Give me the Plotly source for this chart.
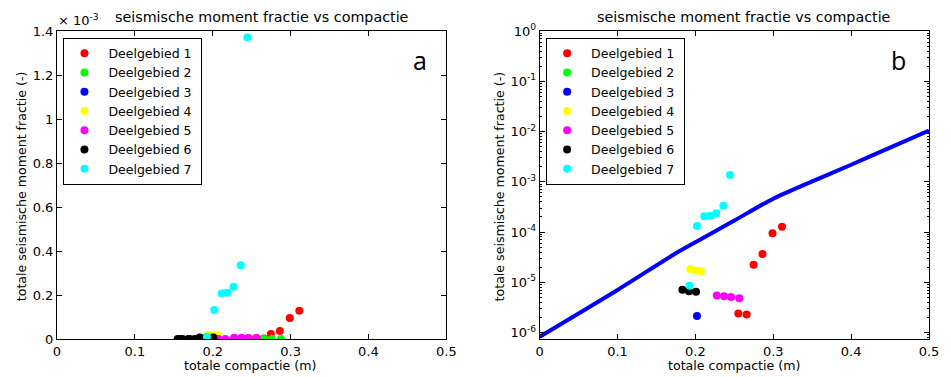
import plotly.graph_objects as go
from plotly.subplots import make_subplots

# ---- data ----
names = ["Deelgebied 1", "Deelgebied 2", "Deelgebied 3", "Deelgebied 4",
         "Deelgebied 5", "Deelgebied 6", "Deelgebied 7"]
colors = ["#ff0000", "#00ff00", "#0000ff", "#ffff00", "#ff00ff", "#000000", "#00ffff"]

x1 = [0.243, 0.2551, 0.2658, 0.2747, 0.2862, 0.299, 0.3112]
y1 = [0.0, 2.4e-6, 2.3e-6, 2.24e-5, 3.66e-5, 9.5e-5, 1.28e-4]
x2 = [0.226, 0.236, 0.246, 0.256, 0.266, 0.276, 0.2875]
y2 = [0.0, 0.0, 0.0, 0.0, 0.0, 0.0, 0.0]
x3 = [0.158, 0.172, 0.186, 0.202]
y3 = [0.0, 0.0, 0.0, 2.15e-6]
x4 = [0.166, 0.176, 0.185, 0.1935, 0.2, 0.2072]
y4 = [0.0, 0.0, 0.0, 1.84e-5, 1.72e-5, 1.66e-5]
x5 = [0.199, 0.207, 0.216, 0.2275, 0.2368, 0.2458, 0.2564]
y5 = [0.0, 0.0, 0.0, 5.47e-6, 5.3e-6, 5.1e-6, 4.85e-6]
x6 = [0.155, 0.161, 0.169, 0.177, 0.1833, 0.1918, 0.2008]
y6 = [0.0, 0.0, 0.0, 0.0, 7.1e-6, 6.7e-6, 6.5e-6]
x7 = [0.1926, 0.202, 0.2114, 0.219, 0.2267, 0.236, 0.2445]
y7 = [8.6e-6, 1.32e-4, 2.07e-4, 2.1e-4, 2.37e-4, 3.35e-4, 1.37e-3]

xs = [x1, x2, x3, x4, x5, x6, x7]
ys = [y1, y2, y3, y4, y5, y6, y7]

# reference curve (right panel)
line_x = [0, 0.1, 0.175, 0.2, 0.25, 0.3, 0.35, 0.4, 0.45, 0.5]
line_y = [8.32e-7, 7.08e-6, 3.8e-5, 6.31e-5, 1.70e-4, 4.62e-4, 1.02e-3, 2.19e-3, 4.79e-3, 1.05e-2]

x_ticks = [0, 0.1, 0.2, 0.3, 0.4, 0.5]
x_ticktext = ["0", "0.1", "0.2", "0.3", "0.4", "0.5"]
ylin_ticks = [0, 0.0002, 0.0004, 0.0006, 0.0008, 0.001, 0.0012, 0.0014]
ylin_ticktext = ["0", "0.2", "0.4", "0.6", "0.8", "1", "1.2", "1.4"]
ylog_exps = [-6, -5, -4, -3, -2, -1, 0]

title_text = "seismische moment fractie vs compactie"
xlabel = "totale compactie (m)"
ylabel = "totale seismische moment fractie (-)"

# ---- figure (page has an 8px body margin) ----
OFF = 8
W, H = 951 - OFF, 377 - OFF
# plot area in page pixels: x 57..935, y 31..339
L, R, T, B = 57 - OFF, (W + OFF) - 935, 31 - OFF, (H + OFF) - 339
PW = 935 - 57
PH = 339 - 31

def px(x):
    return (x - 57) / PW

def py(y):
    return (339 - y) / PH

fig = make_subplots(rows=1, cols=2, horizontal_spacing=0.107)
fig.update_layout(xaxis=dict(domain=[0, px(449)]), xaxis2=dict(domain=[px(543), 1]))

NB = "\u00a0"
for i in range(7):
    fig.add_trace(go.Scatter(x=xs[i], y=ys[i], mode="markers", name=NB + names[i] + NB,
                             marker=dict(color=colors[i], size=8, line=dict(width=0)),
                             legend="legend"), row=1, col=1)
for i in range(7):
    fig.add_trace(go.Scatter(x=xs[i], y=ys[i], mode="markers", name=NB + names[i] + NB,
                             marker=dict(color=colors[i], size=8, line=dict(width=0)),
                             legend="legend2"), row=1, col=2)
fig.add_trace(go.Scatter(x=line_x, y=line_y, mode="lines", showlegend=False,
                         line=dict(color="#0000ff", width=4, shape="spline", smoothing=0.8)),
              row=1, col=2)

FONT = "DejaVu Sans"
axis_common = dict(showgrid=False, zeroline=False, showline=True, linecolor="black",
                   linewidth=1, mirror="ticks", ticks="inside", ticklen=5,
                   tickcolor="black", tickfont=dict(family=FONT, size=13, color="black"))

fig.update_xaxes(range=[0, 0.5], tickvals=x_ticks, ticktext=x_ticktext, **axis_common)
fig.update_yaxes(range=[0, 0.0014], tickvals=ylin_ticks, ticktext=ylin_ticktext,
                 row=1, col=1, **axis_common)
minor_vals = [m * 10 ** e for e in range(-7, 0) for m in range(2, 10)]
fig.update_yaxes(type="log", range=[-6.126, 0],
                 tickvals=[10 ** e for e in ylog_exps],
                 ticktext=["10<sup>%d</sup>" % e for e in ylog_exps],
                 minor=dict(ticks="inside", ticklen=2, tickcolor="black",
                            tickmode="array", tickvals=minor_vals, showgrid=False),
                 row=1, col=2, **axis_common)

legend_common = dict(bgcolor="white", bordercolor="black", borderwidth=1,
                     font=dict(family=FONT, size=12.5, color="black"),
                     xanchor="left", yanchor="top", tracegroupgap=0)
fig.update_layout(
    width=W, height=H,
    margin=dict(l=L, r=R, t=T, b=B),
    paper_bgcolor="white", plot_bgcolor="white",
    font=dict(family=FONT, size=12, color="black"),
    legend=dict(x=px(63.5), y=py(37.5), **legend_common),
    legend2=dict(x=px(549.5), y=py(37.5), **legend_common),
)

ann = []
for cx in (263.5, 749):
    ann.append(dict(text=title_text, x=px(cx), y=py(17), xref="paper", yref="paper",
                    showarrow=False, xanchor="center", yanchor="middle",
                    font=dict(family=FONT, size=14.3, color="black")))
for cx in (251, 739):
    ann.append(dict(text=xlabel, x=px(cx), y=py(366), xref="paper", yref="paper",
                    showarrow=False, xanchor="center", yanchor="middle",
                    font=dict(family=FONT, size=12.6, color="black")))
for cx in (21, 502.5):
    ann.append(dict(text=ylabel, x=px(cx), y=py(186), xref="paper", yref="paper",
                    showarrow=False, xanchor="center", yanchor="middle", textangle=-90,
                    font=dict(family=FONT, size=12.6, color="black")))
ann.append(dict(text="× 10<sup>-3</sup>", x=px(56), y=py(20), xref="paper", yref="paper",
                showarrow=False, xanchor="left", yanchor="middle",
                font=dict(family=FONT, size=13, color="black")))
for label, cx in (("a", 423), ("b", 904)):
    ann.append(dict(text=label, x=px(cx), y=py(60), xref="paper", yref="paper",
                    showarrow=False, xanchor="center", yanchor="middle",
                    font=dict(family="Open Sans", size=25, color="black")))
fig.update_layout(annotations=ann)

fig.write_html("out.html")
